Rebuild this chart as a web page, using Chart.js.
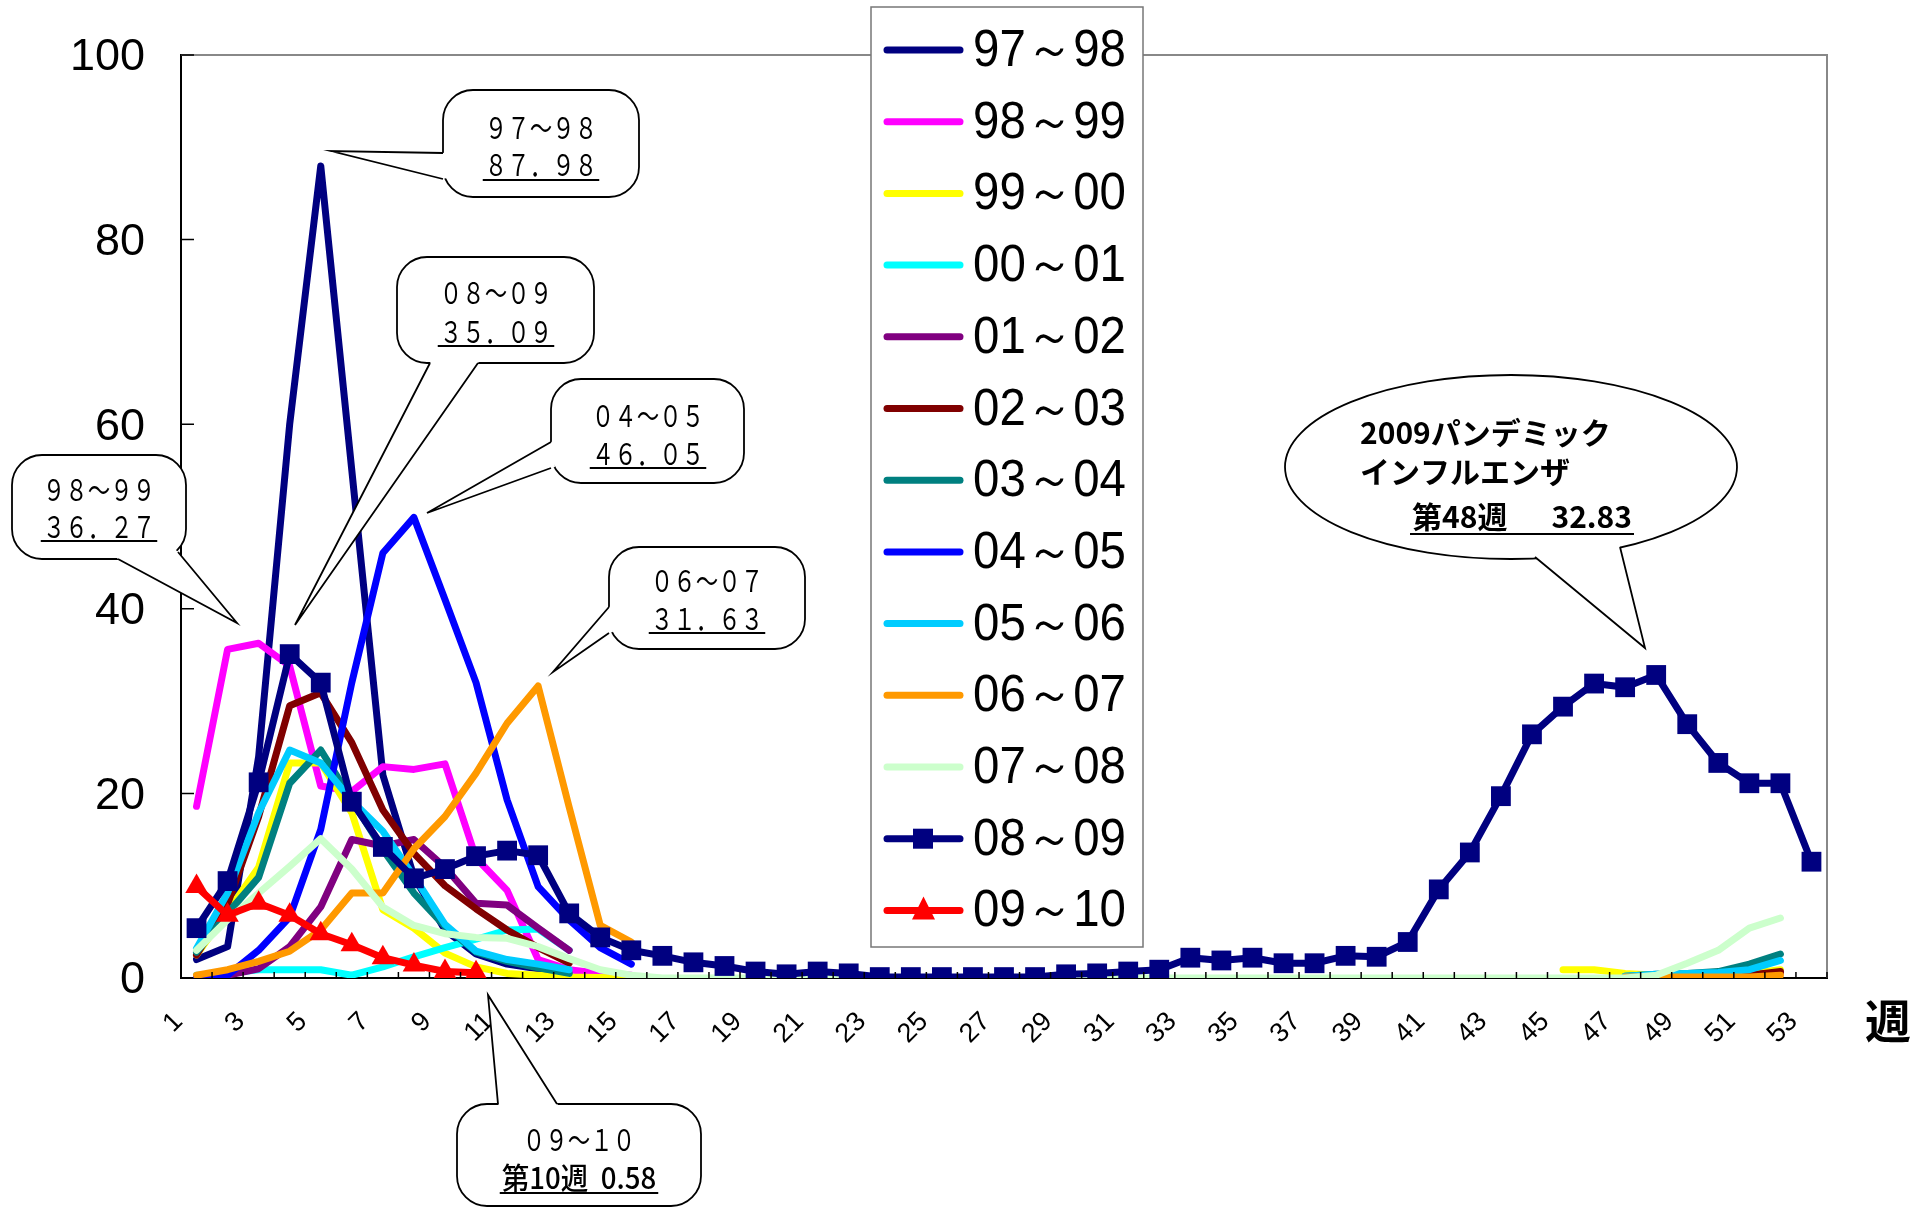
<!DOCTYPE html>
<html>
<head>
<meta charset="utf-8">
<title>インフルエンザ 週別定点当たり報告数</title>
<script src="https://cdn.jsdelivr.net/npm/chart.js"></script>
<style>
  body { margin: 0; background: #fff; }
</style>
</head>
<body>
<canvas id="fluChart" width="1928" height="1209"></canvas>

<script>
  // x axis: calendar weeks 1..53
  var weeks = ['1', '2', '3', '4', '5', '6', '7', '8', '9', '10',
               '11', '12', '13', '14', '15', '16', '17', '18', '19', '20',
               '21', '22', '23', '24', '25', '26', '27', '28', '29', '30',
               '31', '32', '33', '34', '35', '36', '37', '38', '39', '40',
               '41', '42', '43', '44', '45', '46', '47', '48', '49', '50',
               '51', '52', '53'];

  var seasons = ['97～98', '98～99', '99～00', '00～01', '01～02', '02～03', '03～04',
                 '04～05', '05～06', '06～07', '07～08', '08～09', '09～10'];

  // values per season (start week, then consecutive weeks)
  var v9798 = [2.0, 3.4, 24, 60, 87.98, 55, 22, 11, 5.2, 2.6, 1.5, 1.0, 0.6];
  var v9899 = [18.6, 35.6, 36.27, 33.8, 20.8, 20.2, 22.9, 22.6, 23.2, 13, 9.5, 2.0, 0.9, 0.5, 0.3];
  var v9900a = [2.5, 7.2, 12, 23.3, 23.3, 17.9, 7.4, 5.4, 2.7, 1.2, 0.5, 0.3, 0.1, 0.05, 0];
  var v9900b = [0.9, 0.9, 0.5, 0.3, 0.3, 0.3, 0.5, 0.9];               // weeks 45-52
  var v0001 = [0.3, 0.5, 0.9, 0.9, 0.9, 0.3, 1.2, 2.3, 3.3, 4.2, 5.2, 5.3, 3.0];
  var v0102a = [0, 0.3, 1.0, 3.4, 7.7, 15.0, 14.3, 15.0, 12.0, 8.1, 7.9, 5.4, 3.0];
  var v0102b = [0.1, 0.1, 0.1, 0.2, 0.3, 0.6];                          // weeks 47-52
  var v0203a = [2.5, 8.0, 17.5, 29.5, 30.9, 25.5, 18.2, 13.5, 10.0, 7.5, 5.2, 3.3, 1.6];
  var v0203b = [0.1, 0.1, 0.1, 0.2, 0.3, 0.7];
  var v0304a = [2.8, 7.0, 10.9, 21.1, 24.7, 19.3, 13.9, 9.2, 5.6, 2.8, 1.8, 1.1, 0.5];
  var v0304b = [0.2, 0.4, 0.5, 0.7, 1.5, 2.6];
  var v0405 = [0, 0.3, 3.0, 6.6, 16.1, 32.0, 46.05, 49.9, 41.0, 32.0, 19.3, 9.9, 6.3, 3.3, 1.5];
  var v0506a = [3.2, 9.2, 17.9, 24.7, 23.3, 19.2, 15.9, 11.0, 5.8, 2.9, 2.0, 1.5, 0.9];
  var v0506b = [0.2, 0.4, 0.5, 0.6, 0.9, 1.9];
  var v0607a = [0.3, 0.9, 1.8, 2.9, 5.2, 9.2, 9.2, 14.0, 17.5, 22.2, 27.6, 31.63, 18.5, 5.7, 3.9];
  var v0607b = [0.1, 0.1, 0.1, 0.1, 0.1, 0.3];
  var v0708 = [3.0, 6.3, 9.2, 12.1, 15.1, 11.8, 7.7, 5.7, 4.8, 4.4,
               4.3, 3.4, 2.1, 0.9, 0.3, 0, 0, 0, 0, 0,
               0, 0, 0, 0, 0, 0, 0, 0, 0, 0,
               0, 0, 0, 0, 0, 0, 0, 0, 0, 0,
               0, 0, 0, 0, 0, 0, 0, 0.3, 1.6, 3.0,
               5.4, 6.5];
  var v0809 = [5.4, 10.5, 21.2, 35.09, 32.0, 19.1, 14.2, 10.8, 11.8, 13.2,
               13.8, 13.3, 7.0, 4.4, 3.0, 2.4, 1.7, 1.3, 0.7, 0.4,
               0.7, 0.5, 0.1, 0.1, 0.1, 0.1, 0.1, 0.1, 0.4, 0.5,
               0.7, 0.9, 2.2, 1.9, 2.2, 1.6, 1.6, 2.4, 2.3, 3.9,
               9.6, 13.6, 19.7, 26.4, 29.4, 31.9, 31.5, 32.83, 27.5, 23.3,
               21.1, 21.1, 12.6];
  var v0910 = [9.9, 6.8, 8.1, 6.8, 4.8, 3.6, 2.2, 1.4, 0.7, 0.58];

  var colors = ['#000080', '#FF00FF', '#FFFF00', '#00FFFF', '#800080', '#800000', '#008080',
                '#0000FF', '#00CCFF', '#FF9900', '#CCFFCC', '#000080', '#FF0000'];

  // spread [startWeek, values] pieces over the 53 weeks
  function place(parts) {
    var out = weeks.map(function () { return null; });
    parts.forEach(function (p) {
      p[1].forEach(function (v, j) { out[p[0] - 1 + j] = v; });
    });
    return out;
  }

  var seriesData = [
    place([[1, v9798]]),
    place([[1, v9899]]),
    place([[1, v9900a], [45, v9900b]]),
    place([[1, v0001]]),
    place([[1, v0102a], [47, v0102b]]),
    place([[1, v0203a], [47, v0203b]]),
    place([[1, v0304a], [47, v0304b]]),
    place([[1, v0405]]),
    place([[1, v0506a], [47, v0506b]]),
    place([[1, v0607a], [47, v0607b]]),
    place([[1, v0708]]),
    place([[1, v0809]]),
    place([[1, v0910]])
  ];

  var datasets = seasons.map(function (name, i) {
    var ds = {
      label: name,
      data: seriesData[i],
      borderColor: colors[i],
      backgroundColor: colors[i],
      borderWidth: 7,
      borderJoinStyle: 'round',
      borderCapStyle: 'round',
      tension: 0,
      spanGaps: false,
      pointRadius: 0,
      order: seasons.length - i
    };
    if (name === '08～09') { ds.pointStyle = 'rect'; ds.pointRadius = 14; ds.pointBorderWidth = 0; }
    if (name === '09～10') { ds.pointStyle = 'triangle'; ds.pointRadius = 13; ds.pointBorderWidth = 0; }
    return ds;
  });

  var JP = '"Noto Sans CJK JP", sans-serif';
  var SANS = '"Liberation Sans", Arial, sans-serif';

  // rectangle / ellipse speech balloons
  var callouts = [
    { box: [443, 90, 196, 107], base: [[443, 153], [443, 179]], tip: [331, 151],
      lines: ['９７～９８', '８７．９８'], cx: 541, ys: [128, 165], ul: 180 },
    { box: [397, 257, 197, 106], base: [[430, 363], [478, 363]], tip: [295, 625],
      lines: ['０８～０９', '３５．０９'], cx: 496, ys: [293, 332], ul: 346 },
    { box: [551, 379, 193, 104], base: [[551, 442], [551, 468]], tip: [427, 513],
      lines: ['０４～０５', '４６．０５'], cx: 648, ys: [416, 454], ul: 468 },
    { box: [12, 455, 174, 104], base: [[118, 559], [178, 552]], tip: [237, 623],
      lines: ['９８～９９', '３６．２７'], cx: 99, ys: [490, 527], ul: 541 },
    { box: [609, 547, 196, 102], base: [[609, 607], [609, 633]], tip: [553, 672],
      lines: ['０６～０７', '３１．６３'], cx: 707, ys: [581, 619], ul: 633 },
    { box: [457, 1104, 244, 102], base: [[498, 1104], [557, 1104]], tip: [488, 995],
      lines: ['０９～１０', '第10週  0.58'], cx: 579, ys: [1140, 1178], ul: 1193, plain2: true }
  ];
  var bubble = { cx: 1511, cy: 467, rx: 226, ry: 92, base: [[1535, 557], [1620, 547]], tip: [1645, 648] };

  function roundRectPath(ctx, x, y, w, h, r) {
    ctx.beginPath();
    ctx.moveTo(x + r, y);
    ctx.arcTo(x + w, y, x + w, y + h, r);
    ctx.arcTo(x + w, y + h, x, y + h, r);
    ctx.arcTo(x, y + h, x, y, r);
    ctx.arcTo(x, y, x + w, y, r);
    ctx.closePath();
  }

  function drawPointer(ctx, base, tip, centre) {
    var mx = (base[0][0] + base[1][0]) / 2, my = (base[0][1] + base[1][1]) / 2;
    var dx = centre[0] - mx, dy = centre[1] - my, d = Math.sqrt(dx * dx + dy * dy);
    dx = dx / d * 4; dy = dy / d * 4;
    ctx.beginPath();
    ctx.moveTo(base[0][0], base[0][1]);
    ctx.lineTo(tip[0], tip[1]);
    ctx.lineTo(base[1][0], base[1][1]);
    ctx.lineTo(base[1][0] + dx, base[1][1] + dy);
    ctx.lineTo(base[0][0] + dx, base[0][1] + dy);
    ctx.closePath();
    ctx.fillStyle = '#fff';
    ctx.fill();
    ctx.beginPath();
    ctx.moveTo(base[0][0], base[0][1]);
    ctx.lineTo(tip[0], tip[1]);
    ctx.lineTo(base[1][0], base[1][1]);
    ctx.stroke();
  }

  function squeezedText(ctx, text, cx, cy, sx) {
    ctx.save();
    ctx.translate(cx, cy);
    ctx.scale(sx, 1);
    ctx.fillText(text, 0, 0);
    var w = ctx.measureText(text).width * sx;
    ctx.restore();
    return w;
  }

  var decor = {
    id: 'decor',
    afterDraw: function (chart) {
      var ctx = chart.ctx, a = chart.chartArea, xs = chart.scales.x, ys = chart.scales.y;
      ctx.save();

      // grey frame top / right
      ctx.strokeStyle = '#888';
      ctx.lineWidth = 2;
      ctx.beginPath();
      ctx.moveTo(a.left, a.top); ctx.lineTo(a.right, a.top); ctx.lineTo(a.right, a.bottom);
      ctx.stroke();

      // inward tick marks
      ctx.strokeStyle = '#000';
      ctx.lineWidth = 1.5;
      ctx.beginPath();
      for (var v = 20; v <= 100; v += 20) {
        var py = ys.getPixelForValue(v);
        ctx.moveTo(a.left, py); ctx.lineTo(a.left + 13, py);
      }
      var step = xs.getPixelForValue(1) - xs.getPixelForValue(0);
      for (var i = 1; i <= weeks.length; i++) {
        var px = xs.getPixelForValue(i - 1) + step / 2;
        ctx.moveTo(px, a.bottom); ctx.lineTo(px, a.bottom - 6);
      }
      ctx.stroke();

      // callouts
      ctx.lineWidth = 1.8;
      callouts.forEach(function (c) {
        var b = c.box;
        roundRectPath(ctx, b[0], b[1], b[2], b[3], 30);
        ctx.fillStyle = '#fff';
        ctx.fill();
        ctx.strokeStyle = '#000';
        ctx.stroke();
        drawPointer(ctx, c.base, c.tip, [b[0] + b[2] / 2, b[1] + b[3] / 2]);
        ctx.fillStyle = '#000';
        ctx.textAlign = 'center';
        ctx.textBaseline = 'middle';
        ctx.font = '30px ' + JP;
        squeezedText(ctx, c.lines[0], c.cx, c.ys[0], 0.75);
        var w;
        if (c.plain2) {
          ctx.font = '500 30px ' + JP;
          w = squeezedText(ctx, c.lines[1], c.cx, c.ys[1], 0.92);
        } else {
          w = squeezedText(ctx, c.lines[1], c.cx, c.ys[1], 0.75);
        }
        ctx.lineWidth = 2;
        ctx.beginPath();
        ctx.moveTo(c.cx - w / 2 - 2, c.ul); ctx.lineTo(c.cx + w / 2 + 2, c.ul);
        ctx.stroke();
        ctx.lineWidth = 1.8;
      });

      // pandemic balloon
      ctx.beginPath();
      ctx.ellipse(bubble.cx, bubble.cy, bubble.rx, bubble.ry, 0, 0, Math.PI * 2);
      ctx.fillStyle = '#fff';
      ctx.fill();
      ctx.strokeStyle = '#000';
      ctx.stroke();
      drawPointer(ctx, bubble.base, bubble.tip, [bubble.cx, bubble.cy]);
      ctx.fillStyle = '#000';
      ctx.textAlign = 'left';
      ctx.textBaseline = 'middle';
      ctx.font = 'bold 30px ' + JP;
      ctx.fillText('2009パンデミック', 1360, 433);
      ctx.fillText('インフルエンザ', 1360, 472);
      ctx.fillText('第48週', 1412, 517);
      ctx.textAlign = 'right';
      ctx.fillText('32.83', 1632, 517);
      ctx.lineWidth = 2;
      ctx.beginPath();
      ctx.moveTo(1410, 534); ctx.lineTo(1634, 534);
      ctx.stroke();

      // axis unit
      ctx.font = 'bold 46px ' + JP;
      ctx.textAlign = 'center';
      ctx.fillText('週', 1888, 1021);

      // legend box
      var lx = 871, ly = 7, lw = 272, lh = 940;
      ctx.fillStyle = '#fff';
      ctx.fillRect(lx, ly, lw, lh);
      ctx.strokeStyle = '#777';
      ctx.lineWidth = 1.5;
      ctx.strokeRect(lx, ly, lw, lh);
      chart.data.datasets.forEach(function (ds, k) {
        var ry = 50 + k * 71.7;
        ctx.strokeStyle = ds.borderColor;
        ctx.lineWidth = 7;
        ctx.lineCap = 'round';
        ctx.beginPath();
        ctx.moveTo(887, ry); ctx.lineTo(960, ry);
        ctx.stroke();
        ctx.fillStyle = ds.borderColor;
        if (ds.pointStyle === 'rect') {
          ctx.fillRect(913, ry - 10, 20, 20);
        } else if (ds.pointStyle === 'triangle') {
          ctx.beginPath();
          ctx.moveTo(923.5, ry - 14); ctx.lineTo(935, ry + 9); ctx.lineTo(912, ry + 9);
          ctx.closePath(); ctx.fill();
        }
        ctx.fillStyle = '#000';
        ctx.font = '51px ' + SANS;
        ctx.textAlign = 'left';
        ctx.textBaseline = 'middle';
        ctx.save();
        ctx.translate(973, ry + 2);
        ctx.scale(0.93, 1);
        ctx.fillText(ds.label, 0, 0);
        ctx.restore();
      });
      ctx.restore();
    }
  };

  var ctx = document.getElementById('fluChart').getContext('2d');
  var fluChart = new Chart(ctx, {
    type: 'line',
    data: { labels: weeks, datasets: datasets },
    options: {
      responsive: false,
      animation: false,
      devicePixelRatio: 1,
      layout: { padding: { left: 0, top: 55, right: 101, bottom: 0 } },
      plugins: { legend: { display: false }, tooltip: { enabled: false } },
      scales: {
        x: {
          type: 'category',
          offset: true,
          grid: { display: false, drawTicks: false, offset: true },
          border: { display: true, color: '#000', width: 2 },
          ticks: {
            autoSkip: false, maxRotation: 45, minRotation: 45,
            padding: 28, labelOffset: -18, color: '#000',
            font: { family: SANS, size: 27 },
            callback: function (value, index) { return index % 2 === 0 ? weeks[index] : ''; }
          },
          afterFit: function (s) { s.height = 231; s.paddingLeft = 0; s.paddingRight = 0; }
        },
        y: {
          min: 0, max: 100,
          grid: { display: false, drawTicks: false },
          border: { display: true, color: '#000', width: 2 },
          ticks: { stepSize: 20, padding: 36, labelOffset: 3, color: '#000', font: { family: SANS, size: 45 } },
          afterFit: function (s) { s.width = 181; s.paddingTop = 0; s.paddingBottom = 0; }
        }
      }
    },
    plugins: [decor]
  });
</script>
</body>
</html>
